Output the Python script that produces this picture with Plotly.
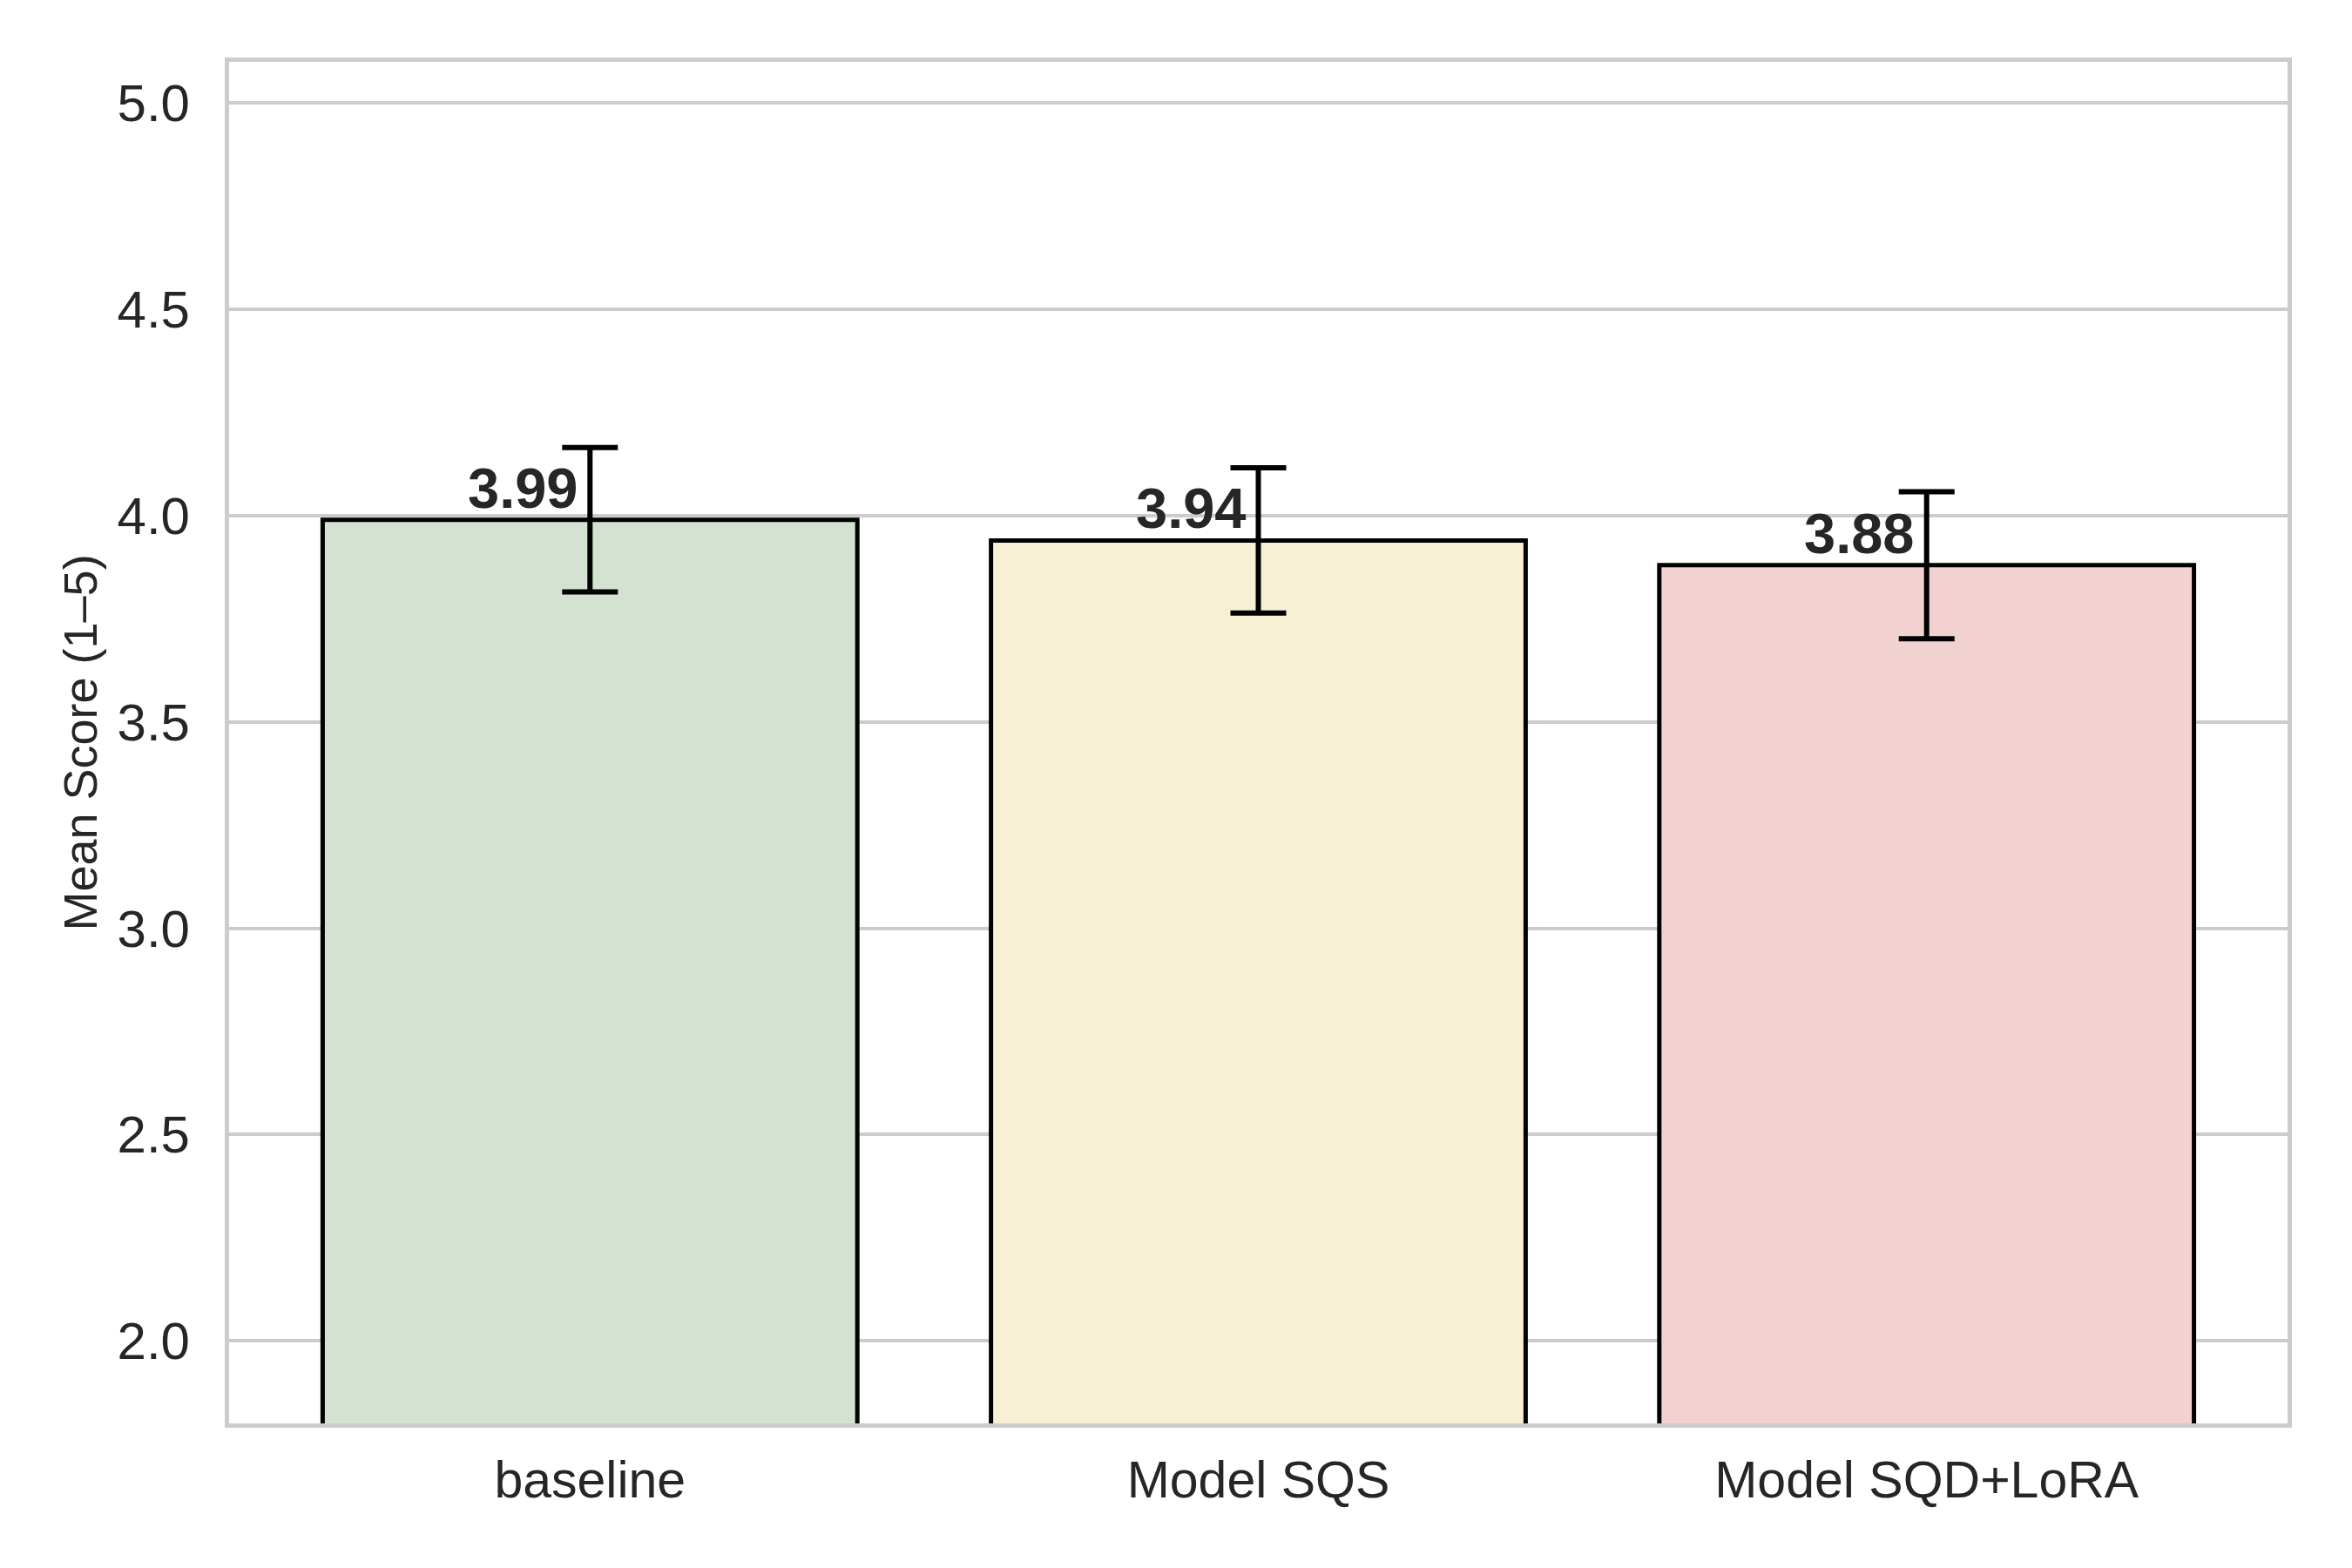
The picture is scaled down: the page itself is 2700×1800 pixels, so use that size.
import plotly.graph_objects as go

# mean scores per model with error bar half-widths
models = ["baseline", "Model SQS", "Model SQD+LoRA"]
mean_score = [3.99, 3.94, 3.88]
err = [0.175, 0.176, 0.178]
bar_colors = ["#d3e2d1", "#f8f0d4", "#f2d2d1"]
y_ticks = [2.0, 2.5, 3.0, 3.5, 4.0, 4.5, 5.0]

FONT = "Liberation Sans, Arial, sans-serif"
xpos = list(range(len(models)))

fig = go.Figure()
fig.add_trace(go.Bar(
    x=xpos, y=mean_score, width=0.8,
    marker=dict(color=bar_colors, line=dict(color="black", width=5)),
    error_y=dict(type="data", array=err, visible=True,
                 color="black", thickness=6, width=32),
    showlegend=False,
))

for i, v in enumerate(mean_score):
    fig.add_annotation(x=i - 0.1, y=v, text="<b>%.2f</b>" % v,
                       showarrow=False, xanchor="center", yanchor="bottom",
                       yshift=-2,
                       font=dict(family=FONT, size=65, color="#262626"))

fig.update_layout(
    width=2700, height=1800,
    margin=dict(l=255, r=82, t=63, b=174),
    plot_bgcolor="white", paper_bgcolor="white",
    font=dict(family=FONT, color="#262626"),
    bargap=0.2,
)
fig.update_xaxes(range=[-0.54, 2.54], tickvals=xpos, ticktext=models,
                 showgrid=False, showline=True, mirror=True,
                 linecolor="#cccccc", linewidth=5, zeroline=False,
                 tickfont=dict(size=59, color="#262626"),
                 ticklabelstandoff=9)
fig.update_yaxes(range=[1.8, 5.1], tickvals=y_ticks,
                 ticktext=["%.1f" % t for t in y_ticks],
                 showgrid=True, gridcolor="#cccccc", gridwidth=4,
                 showline=True, mirror=True,
                 linecolor="#cccccc", linewidth=5, zeroline=False,
                 tickfont=dict(size=60, color="#262626"),
                 ticklabelstandoff=28,
                 title=dict(text="Mean Score (1–5)", standoff=7,
                            font=dict(size=54, color="#262626")))

fig.write_html("out.html")
